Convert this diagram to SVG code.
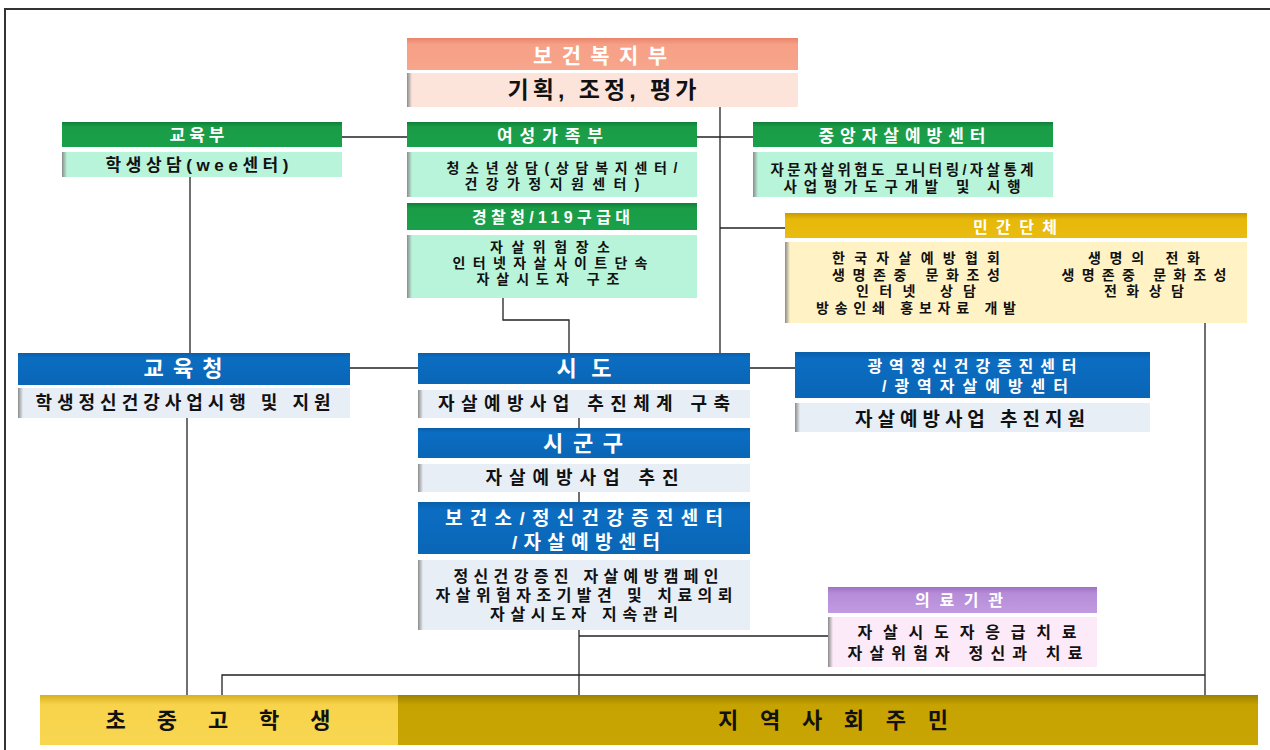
<svg xmlns="http://www.w3.org/2000/svg" width="1270" height="750" viewBox="0 0 1270 750">
<defs>
<linearGradient id="gGreen" x1="0" y1="0" x2="0" y2="1"><stop offset="0" stop-color="#0E7F36"/><stop offset="0.2" stop-color="#1B9C47"/><stop offset="1" stop-color="#19A04A"/></linearGradient>
<linearGradient id="gBlue" x1="0" y1="0" x2="0" y2="1"><stop offset="0" stop-color="#0A5EA8"/><stop offset="0.15" stop-color="#0B6DC2"/><stop offset="1" stop-color="#0A66B6"/></linearGradient>
<linearGradient id="gGold" x1="0" y1="0" x2="0" y2="1"><stop offset="0" stop-color="#C99A00"/><stop offset="0.25" stop-color="#E6B80A"/><stop offset="1" stop-color="#E9BC10"/></linearGradient>
<linearGradient id="gSalmon" x1="0" y1="0" x2="0" y2="1"><stop offset="0" stop-color="#E8846A"/><stop offset="0.2" stop-color="#F6A087"/><stop offset="1" stop-color="#F7A58C"/></linearGradient>
<linearGradient id="gPurple" x1="0" y1="0" x2="0" y2="1"><stop offset="0" stop-color="#9E72C4"/><stop offset="0.25" stop-color="#B68CD9"/><stop offset="1" stop-color="#C19BE0"/></linearGradient>
<linearGradient id="gYellow" x1="0" y1="0" x2="0" y2="1"><stop offset="0" stop-color="#D9AF20"/><stop offset="0.2" stop-color="#F8D44C"/><stop offset="1" stop-color="#F8D650"/></linearGradient>
<linearGradient id="gDark" x1="0" y1="0" x2="0" y2="1"><stop offset="0" stop-color="#9C8000"/><stop offset="0.2" stop-color="#C6A300"/><stop offset="1" stop-color="#C8A504"/></linearGradient>
<linearGradient id="gEdge" x1="0" y1="0" x2="1" y2="0"><stop offset="0" stop-color="#8A8A8A"/><stop offset="1" stop-color="#8A8A8A" stop-opacity="0"/></linearGradient>
</defs>
<style>
text{font-family:"Liberation Sans","Noto Sans CJK KR",sans-serif;font-weight:700;text-anchor:middle;dominant-baseline:central}
.hw{fill:#FFFFFF}
.bk{fill:#111111}
.mint{fill:#B8F4DA}
.lblue{fill:#E8EEF5}
.cream{fill:#FFF3C6}
.pink{fill:#FDE4DB}
.lpink{fill:#FCEAF8}
.edge{fill:url(#gEdge)}
.conn{fill:none;stroke:#222;stroke-width:1.3}
.frame{fill:none;stroke:#333;stroke-width:2}
</style>
<path class="frame" d="M5 750 V9 H1270"/>
<g id="connectors">
<path class="conn" d="M342 137 H407"/>
<path class="conn" d="M697 137 H753"/>
<path class="conn" d="M720 107 V353"/>
<path class="conn" d="M720 228 H785"/>
<path class="conn" d="M190 177 V353"/>
<path class="conn" d="M350 368 H418"/>
<path class="conn" d="M750 368 H795"/>
<path class="conn" d="M503 298 V320 H569 V353"/>
<path class="conn" d="M579 418 V428"/>
<path class="conn" d="M579 492 V502"/>
<path class="conn" d="M187 418 V695"/>
<path class="conn" d="M579 630 V695"/>
<path class="conn" d="M579 636 H828"/>
<path class="conn" d="M1205 323 V695"/>
<path class="conn" d="M222 695 V675 H1205"/>
</g>
<g id="mohw">
<rect x="407" y="38" width="391" height="32" fill="url(#gSalmon)"/>
<rect x="407" y="73" width="391" height="34" class="pink"/>
<rect x="407" y="73" width="5" height="34" class="edge"/>
<text x="600" y="55" class="hw" font-size="21" textLength="134">보건복지부</text>
<text x="602" y="90" class="bk" font-size="23" textLength="189">기획, 조정, 평가</text>
</g>
<g id="moe">
<rect x="62" y="122" width="280" height="25" fill="url(#gGreen)"/>
<rect x="62" y="152" width="280" height="25" class="mint"/>
<rect x="62" y="152" width="5" height="25" class="edge"/>
<text x="197" y="135" class="hw" font-size="17" textLength="55">교육부</text>
<text x="197" y="165" class="bk" font-size="17" textLength="183">학생상담(wee센터)</text>
</g>
<g id="mogef">
<rect x="407" y="122" width="290" height="25" fill="url(#gGreen)"/>
<rect x="407" y="152" width="290" height="45" class="mint"/>
<rect x="407" y="152" width="5" height="45" class="edge"/>
<text x="550" y="136" class="hw" font-size="17" textLength="106">여성가족부</text>
<text x="562" y="168" class="bk" font-size="14" textLength="231">청소년상담(상담복지센터/</text>
<text x="552" y="184" class="bk" font-size="14" textLength="175">건강가정지원센터)</text>
</g>
<g id="police">
<rect x="407" y="203" width="290" height="27" fill="url(#gGreen)"/>
<rect x="407" y="235" width="290" height="63" class="mint"/>
<rect x="407" y="235" width="5" height="63" class="edge"/>
<text x="551" y="217" class="hw" font-size="16" textLength="158">경찰청/119구급대</text>
<text x="550" y="247" class="bk" font-size="14" textLength="120">자살위험장소</text>
<text x="550" y="263" class="bk" font-size="14" textLength="195">인터넷자살사이트단속</text>
<text x="548" y="279" class="bk" font-size="14" textLength="143">자살시도자 구조</text>
</g>
<g id="kfsp">
<rect x="753" y="122" width="300" height="25" fill="url(#gGreen)"/>
<rect x="753" y="152" width="300" height="45" class="mint"/>
<rect x="753" y="152" width="5" height="45" class="edge"/>
<text x="902" y="136" class="hw" font-size="17" textLength="167">중앙자살예방센터</text>
<text x="902" y="170" class="bk" font-size="14.5" textLength="263">자문자살위험도 모니터링/자살통계</text>
<text x="902" y="187" class="bk" font-size="14.5" textLength="237">사업평가도구개발 및 시행</text>
</g>
<g id="ngo">
<rect x="785" y="213" width="462" height="25" fill="url(#gGold)"/>
<rect x="785" y="242" width="462" height="81" class="cream"/>
<rect x="785" y="242" width="5" height="81" class="edge"/>
<text x="1015" y="227" class="hw" font-size="16" textLength="84">민간단체</text>
<text x="916" y="258" class="bk" font-size="14" textLength="168">한국자살예방협회</text>
<text x="916" y="275" class="bk" font-size="14" textLength="168">생명존중 문화조성</text>
<text x="916" y="291" class="bk" font-size="14" textLength="120">인터넷 상담</text>
<text x="916" y="308" class="bk" font-size="14" textLength="200">방송인쇄 홍보자료 개발</text>
<text x="1144" y="258" class="bk" font-size="14" textLength="112">생명의 전화</text>
<text x="1144" y="275" class="bk" font-size="14" textLength="165">생명존중 문화조성</text>
<text x="1144" y="291" class="bk" font-size="14" textLength="80">전화상담</text>
</g>
<g id="edu-office">
<rect x="18" y="353" width="332" height="32" fill="url(#gBlue)"/>
<rect x="18" y="388" width="332" height="30" class="lblue"/>
<rect x="18" y="388" width="5" height="30" class="edge"/>
<text x="183" y="368" class="hw" font-size="22" textLength="79">교육청</text>
<text x="183" y="403" class="bk" font-size="18" textLength="295">학생정신건강사업시행 및 지원</text>
</g>
<g id="sido">
<rect x="418" y="353" width="332" height="31" fill="url(#gBlue)"/>
<rect x="418" y="390" width="332" height="28" class="lblue"/>
<rect x="418" y="390" width="5" height="28" class="edge"/>
<text x="584" y="368" class="hw" font-size="22" textLength="55">시도</text>
<text x="584" y="404" class="bk" font-size="18" textLength="292">자살예방사업 추진체계 구축</text>
</g>
<g id="sigungu">
<rect x="418" y="428" width="332" height="30" fill="url(#gBlue)"/>
<rect x="418" y="464" width="332" height="28" class="lblue"/>
<rect x="418" y="464" width="5" height="28" class="edge"/>
<text x="583" y="443" class="hw" font-size="22" textLength="80">시군구</text>
<text x="582" y="478" class="bk" font-size="18" textLength="193">자살예방사업 추진</text>
</g>
<g id="health-center">
<rect x="418" y="502" width="332" height="52" fill="url(#gBlue)"/>
<rect x="418" y="560" width="332" height="70" class="lblue"/>
<rect x="418" y="560" width="5" height="70" class="edge"/>
<text x="584" y="518" class="hw" font-size="19" textLength="278">보건소/정신건강증진센터</text>
<text x="586" y="542" class="hw" font-size="19" textLength="148">/자살예방센터</text>
<text x="586" y="576" class="bk" font-size="16" textLength="265">정신건강증진 자살예방캠페인</text>
<text x="584" y="595" class="bk" font-size="16" textLength="297">자살위험자조기발견 및 치료의뢰</text>
<text x="584" y="614" class="bk" font-size="16" textLength="188">자살시도자 지속관리</text>
</g>
<g id="regional-center">
<rect x="795" y="352" width="355" height="46" fill="url(#gBlue)"/>
<rect x="795" y="403" width="355" height="29" class="lblue"/>
<rect x="795" y="403" width="5" height="29" class="edge"/>
<text x="972" y="366" class="hw" font-size="16" textLength="209">광역정신건강증진센터</text>
<text x="975" y="386" class="hw" font-size="16" textLength="186">/광역자살예방센터</text>
<text x="970" y="419" class="bk" font-size="19" textLength="230">자살예방사업 추진지원</text>
</g>
<g id="medical">
<rect x="828" y="587" width="269" height="26" fill="url(#gPurple)"/>
<rect x="828" y="617" width="269" height="50" class="lpink"/>
<rect x="828" y="617" width="5" height="50" class="edge"/>
<text x="959" y="600" class="hw" font-size="16" textLength="88">의료기관</text>
<text x="967" y="632" class="bk" font-size="16" textLength="219">자살시도자응급치료</text>
<text x="965" y="653" class="bk" font-size="16" textLength="235">자살위험자 정신과 치료</text>
</g>
<g id="students">
<rect x="40" y="695" width="358" height="50" fill="url(#gYellow)"/>
<text x="218" y="720" class="bk" font-size="22" textLength="225">초 중 고 학 생</text>
</g>
<g id="residents">
<rect x="398" y="695" width="860" height="50" fill="url(#gDark)"/>
<text x="833" y="720" class="bk" font-size="22" textLength="230">지 역 사 회 주 민</text>
</g>
</svg>
